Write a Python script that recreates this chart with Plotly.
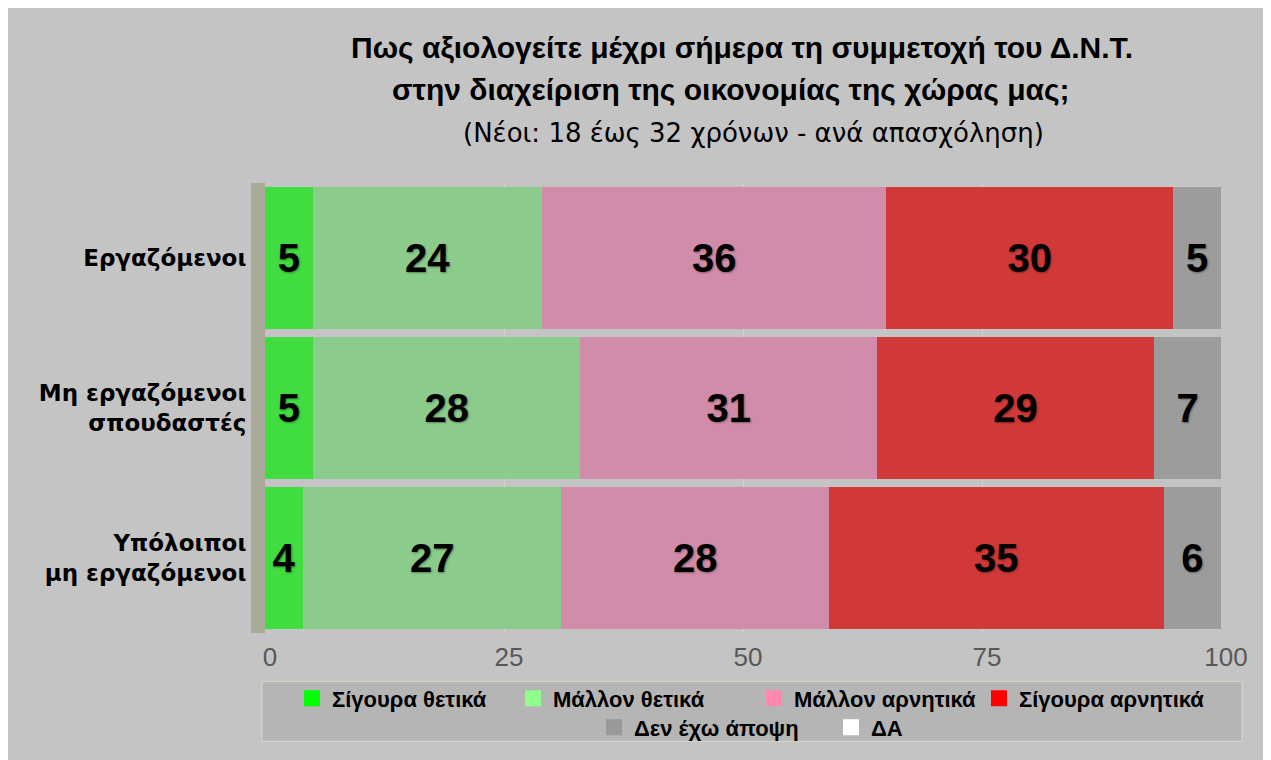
import plotly.graph_objects as go

# ---------------- data ----------------
categories = ["Εργαζόμενοι", "Μη εργαζόμενοι<br>σπουδαστές", "Υπόλοιποι<br>μη εργαζόμενοι"]
series_names = ["Σίγουρα θετικά", "Μάλλον θετικά", "Μάλλον αρνητικά",
                "Σίγουρα αρνητικά", "Δεν έχω άποψη", "ΔΑ"]
sure_positive = [5, 5, 4]
rather_positive = [24, 28, 27]
rather_negative = [36, 31, 28]
sure_negative = [30, 29, 35]
no_opinion = [5, 7, 6]
no_answer = [0, 0, 0]
x_ticks = [0, 25, 50, 75, 100]

title_line1 = "Πως αξιολογείτε μέχρι σήμερα τη συμμετοχή του Δ.Ν.Τ."
title_line2 = "στην διαχείριση της οικονομίας της χώρας μας;"
subtitle = "(Νέοι: 18 έως 32 χρόνων - ανά απασχόληση)"

# ---------------- style ----------------
OFF = 8  # page body margin
W, H = 1271 - OFF, 760 - OFF
ML, MR, MT, MB = 257, 50, 175, 124
PW, PH = W - ML - MR, H - MT - MB

bar_colors = ["#40dc40", "#8bcb8b", "#d08ca9", "#d13838", "#9c9c9c", "#ffffff"]
legend_colors = ["#00ff00", "#8cff8c", "#ff88b0", "#ff0000", "#999999", "#ffffff"]
legend_widths = [176, 196, 180, 0, 192, 0]
all_values = [sure_positive, rather_positive, rather_negative, sure_negative, no_opinion, no_answer]

def px_x(p):
    return (p - OFF - ML) / PW

def px_y(p):
    return (H - MB - (p - OFF)) / PH

fig = go.Figure()

for name, vals, col in zip(series_names, all_values, bar_colors):
    show_text = any(v > 0 for v in vals)
    fig.add_trace(go.Bar(
        y=categories, x=vals, name=name, orientation="h",
        marker=dict(color=col, line=dict(width=0)),
        text=[str(v) for v in vals] if show_text else None,
        textposition="inside", insidetextanchor="middle",
        textfont=dict(family="Liberation Sans, Arial", size=40, color="black",
                      weight="bold", shadow="1px 1px 2px rgba(0,0,0,0.35)"),
        constraintext="none",
        showlegend=False, hoverinfo="skip",
    ))

# legend entries (bright swatches)
for i, (name, col, lw) in enumerate(zip(series_names, legend_colors, legend_widths)):
    tr = dict(
        x=[None], y=[None], mode="markers", name=name,
        marker=dict(symbol="square", size=16, color=col, line=dict(width=0)),
        legend="legend" if i < 4 else "legend2",
    )
    if lw:
        tr["legendwidth"] = lw
    fig.add_trace(go.Scatter(**tr))

legend_font = dict(family="Liberation Sans, Arial", size=22, color="black", weight="bold")

fig.update_layout(
    width=W, height=H,
    margin=dict(l=ML, r=MR, t=MT, b=MB),
    barmode="stack", bargap=0.05,
    paper_bgcolor="#c4c4c4", plot_bgcolor="rgba(0,0,0,0)",
    xaxis=dict(range=[0, 100], tickvals=x_ticks, showgrid=True, gridcolor="#d2d2c4",
               gridwidth=1, zeroline=False, showline=False, fixedrange=True,
               tickfont=dict(family="Liberation Sans, Arial", size=26, color="#585858"),
               ticks="", ticklabelshift=5, ticklabelstandoff=6),
    yaxis=dict(autorange="reversed", showgrid=False, zeroline=False,
               showline=True, linecolor="#a9ab98", linewidth=14, ticks="",
               tickfont=dict(family="DejaVu Sans", size=23, color="black", weight="bold"),
               fixedrange=True),
    legend=dict(orientation="h", x=px_x(292), xanchor="left", y=px_y(702), yanchor="middle",
                bgcolor="rgba(0,0,0,0)", font=legend_font, itemclick=False,
                traceorder="normal"),
    legend2=dict(orientation="h", x=px_x(594), xanchor="left", y=px_y(731), yanchor="middle",
                 bgcolor="rgba(0,0,0,0)", font=legend_font, itemclick=False,
                 traceorder="normal"),
    shapes=[
        dict(type="rect", xref="paper", yref="paper", layer="below",
             x0=px_x(262), x1=px_x(1242), y0=px_y(745), y1=px_y(685),
             fillcolor="#b5b5b5", line=dict(color="#d9d9cc", width=1)),
    ],
    annotations=[
        dict(text=f"<b>{title_line1}</b>", xref="paper", yref="paper",
             x=px_x(742), y=px_y(47), xanchor="center", yanchor="middle", showarrow=False,
             font=dict(family="Liberation Sans, Arial", size=30, color="black")),
        dict(text=f"<b>{title_line2}</b>", xref="paper", yref="paper",
             x=px_x(731), y=px_y(89), xanchor="center", yanchor="middle", showarrow=False,
             font=dict(family="Liberation Sans, Arial", size=30, color="black")),
        dict(text=subtitle, xref="paper", yref="paper",
             x=px_x(753), y=px_y(133), xanchor="center", yanchor="middle", showarrow=False,
             font=dict(family="DejaVu Sans", size=26, color="black")),
    ],
)

fig.write_html("out.html")
